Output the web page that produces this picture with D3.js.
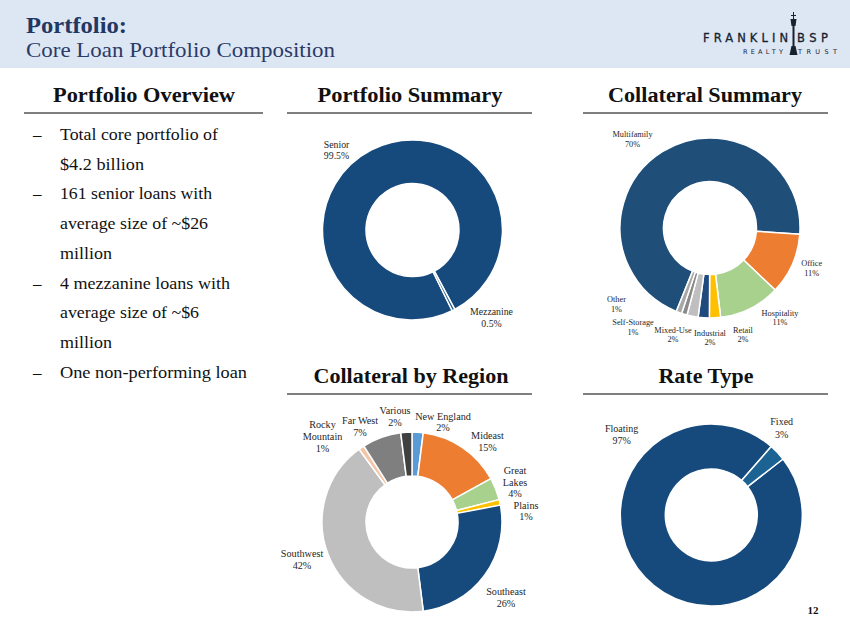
<!DOCTYPE html>
<html>
<head>
<meta charset="utf-8">
<script src="https://cdn.jsdelivr.net/npm/d3@7"></script>
<style>
  html, body { margin: 0; padding: 0; background: #fff; }
  svg { display: block; }
</style>
</head>
<body>
<svg id="slide" width="850" height="638"></svg>
<script>
// data
var overviewLines = [
  ["Total core portfolio of", true],
  ["$4.2 billion", false],
  ["161 senior loans with", true],
  ["average size of ~$26", false],
  ["million", false],
  ["4 mezzanine loans with", true],
  ["average size of ~$6", false],
  ["million", false],
  ["One non-performing loan", true]
];

var summaryLabels = ["Senior", "Mezzanine"];
var summaryValues = [99.5, 0.5];

var collateralLabels = ["Multifamily", "Office", "Hospitality", "Retail", "Industrial", "Mixed-Use", "Self-Storage", "Other"];
var collateralValues = [70, 11, 11, 2, 2, 2, 1, 1];

var regionLabels = ["New England", "Mideast", "Great Lakes", "Plains", "Southeast", "Southwest", "Rocky Mountain", "Far West", "Various"];
var regionValues = [2, 15, 4, 1, 26, 42, 1, 7, 2];

var rateLabels = ["Floating", "Fixed"];
var rateValues = [97, 3];

var wrapNames = ["Great Lakes", "Rocky Mountain"];

var svg = d3.select("#slide");
var navy = "#1f3864";
var serif = "'Liberation Serif', 'DejaVu Serif', serif";

// header band
svg.append("rect").attr("x", 0).attr("y", 0).attr("width", 850).attr("height", 68).attr("fill", "#dde7f3");
svg.append("text").attr("x", 26).attr("y", 33)
    .attr("font-family", serif).attr("font-weight", "bold").attr("font-size", 24)
    .attr("fill", navy).attr("textLength", 101).attr("lengthAdjust", "spacingAndGlyphs")
    .text("Portfolio:");
svg.append("text").attr("x", 26).attr("y", 57)
    .attr("font-family", serif).attr("font-size", 22)
    .attr("fill", "#2b3a67").attr("textLength", 309).attr("lengthAdjust", "spacingAndGlyphs")
    .text("Core Loan Portfolio Composition");

// logo
var logo = svg.append("g").attr("fill", "#16222f").attr("font-family", "'DejaVu Sans', sans-serif");
logo.append("text").attr("x", 703).attr("y", 42).attr("font-size", 11.5)
    .attr("stroke", "#16222f").attr("stroke-width", 0.3)
    .attr("textLength", 85).attr("lengthAdjust", "spacing").text("FRANKLIN");
logo.append("text").attr("x", 797).attr("y", 42).attr("font-size", 11.5)
    .attr("stroke", "#16222f").attr("stroke-width", 0.3)
    .attr("textLength", 31).attr("lengthAdjust", "spacing").text("BSP");
logo.append("text").attr("x", 743).attr("y", 54).attr("font-size", 6.5)
    .attr("textLength", 40).attr("lengthAdjust", "spacing").text("REALTY");
logo.append("text").attr("x", 798).attr("y", 54).attr("font-size", 6.5)
    .attr("textLength", 39).attr("lengthAdjust", "spacing").text("TRUST");
logo.append("rect").attr("x", 792.5).attr("y", 26).attr("width", 2).attr("height", 28);
logo.append("path").attr("d", "M790.5,19 L796.5,19 L795.5,26 L791.5,26 Z");
logo.append("rect").attr("x", 793).attr("y", 12).attr("width", 1).attr("height", 7);
logo.append("rect").attr("x", 791).attr("y", 15).attr("width", 5).attr("height", 1);
logo.append("path").attr("d", "M789.5,55 L797.5,55 L795.5,46 L791.5,46 Z");

// section headers
var sections = [
  ["Portfolio Overview", 144, 102, 182, 24, 263, 113],
  ["Portfolio Summary", 410, 102, 185, 287, 532, 113],
  ["Collateral Summary", 705, 102, 194, 583, 828, 113],
  ["Collateral by Region", 411, 383, 195, 287, 532, 394],
  ["Rate Type", 706, 383, 95, 583, 828, 394]
];
sections.forEach(function (s) {
  svg.append("text").attr("x", s[1]).attr("y", s[2]).attr("text-anchor", "middle")
      .attr("font-family", serif).attr("font-weight", "bold").attr("font-size", 20)
      .attr("fill", "#111").attr("textLength", s[3]).attr("lengthAdjust", "spacingAndGlyphs")
      .text(s[0]);
  svg.append("line").attr("x1", s[4]).attr("x2", s[5]).attr("y1", s[6]).attr("y2", s[6])
      .attr("stroke", "#7f7f7f").attr("stroke-width", 2);
});

// overview bullets
var bulletWidths = [158, 84, 152, 148, 52, 170, 139, 52, 187];
overviewLines.forEach(function (l, i) {
  var y = 140 + i * 29.7;
  if (l[1]) {
    svg.append("text").attr("x", 33).attr("y", y).attr("font-family", serif).attr("font-size", 17)
        .attr("fill", "#111").text("\u2013");
  }
  svg.append("text").attr("x", 60).attr("y", y).attr("font-family", serif).attr("font-size", 17.5)
      .attr("fill", "#111").attr("textLength", bulletWidths[i]).attr("lengthAdjust", "spacingAndGlyphs")
      .text(l[0]);
});

// donuts
var donuts = [
  { labels: summaryLabels, values: summaryValues, colors: ["#174a7c", "#1d5a8c"],
    cx: 412.5, cy: 230, r: 90, ri: 46.5, start: 153.8, fs: 9.8, lh: 11.7,
    offsets: [[-76, -80], [79, 87.5]] },
  { labels: collateralLabels, values: collateralValues,
    colors: ["#1f4e79", "#ed7d31", "#a9d18e", "#ffc000", "#1f4a7e", "#bfbfbf", "#8a8a8a", "#a8a8a8"],
    cx: 710, cy: 228, r: 90, ri: 46.5, start: 202, fs: 8.3, lh: 9.5,
    offsets: [[-77.5, -88.5], [101.7, 40.5], [70, 90], [33, 107], [0, 110], [-37, 107], [-77, 99.5], [-93.5, 76.5]] },
  { labels: regionLabels, values: regionValues,
    colors: ["#5b9bd5", "#ed7d31", "#a9d18e", "#ffc000", "#174a7c", "#bfbfbf", "#f4c4a4", "#7f7f7f", "#404040"],
    cx: 412, cy: 522, r: 90, ri: 46, start: 0, fs: 10.2, lh: 11.7,
    offsets: [[31, -100], [75.5, -80.7], [103, -40], [114, -11], [94, 75.3], [-110, 37.5], [-89.5, -85.7], [-52, -95.3], [-17, -105.3]] },
  { labels: rateLabels, values: rateValues, colors: ["#174a7c", "#1c6393"],
    cx: 711.3, cy: 515, r: 91, ri: 46, start: 52, fs: 10, lh: 12.3,
    offsets: [[-89.6, -80.7], [70.4, -87]] }
];

donuts.forEach(function (d) {
  var a0 = d.start * Math.PI / 180;
  var pie = d3.pie().sort(null).startAngle(a0).endAngle(a0 + 2 * Math.PI);
  var arc = d3.arc().innerRadius(d.ri).outerRadius(d.r);
  var g = svg.append("g").attr("transform", "translate(" + d.cx + "," + d.cy + ")");
  g.selectAll("path").data(pie(d.values)).enter().append("path")
      .attr("d", arc)
      .attr("fill", function (p, i) { return d.colors[i]; })
      .attr("stroke", "#fff").attr("stroke-width", 1.5).attr("stroke-linejoin", "round");

  d.labels.forEach(function (name, i) {
    var lines = wrapNames.indexOf(name) >= 0 ? name.split(" ") : [name];
    lines.push(d.values[i] + "%");
    var y0 = d.offsets[i][1] - (lines.length - 1) * d.lh / 2;
    var t = g.append("text").attr("text-anchor", "middle")
        .attr("font-family", serif).attr("font-size", d.fs).attr("fill", "#262626");
    lines.forEach(function (ln, k) {
      t.append("tspan").attr("x", d.offsets[i][0]).attr("y", y0 + k * d.lh)
          .attr("dominant-baseline", "central").text(ln);
    });
  });
});

// page number
svg.append("text").attr("x", 813).attr("y", 614).attr("text-anchor", "middle")
    .attr("font-family", serif).attr("font-weight", "bold").attr("font-size", 11)
    .attr("fill", "#111").text("12");
</script>
</body>
</html>
